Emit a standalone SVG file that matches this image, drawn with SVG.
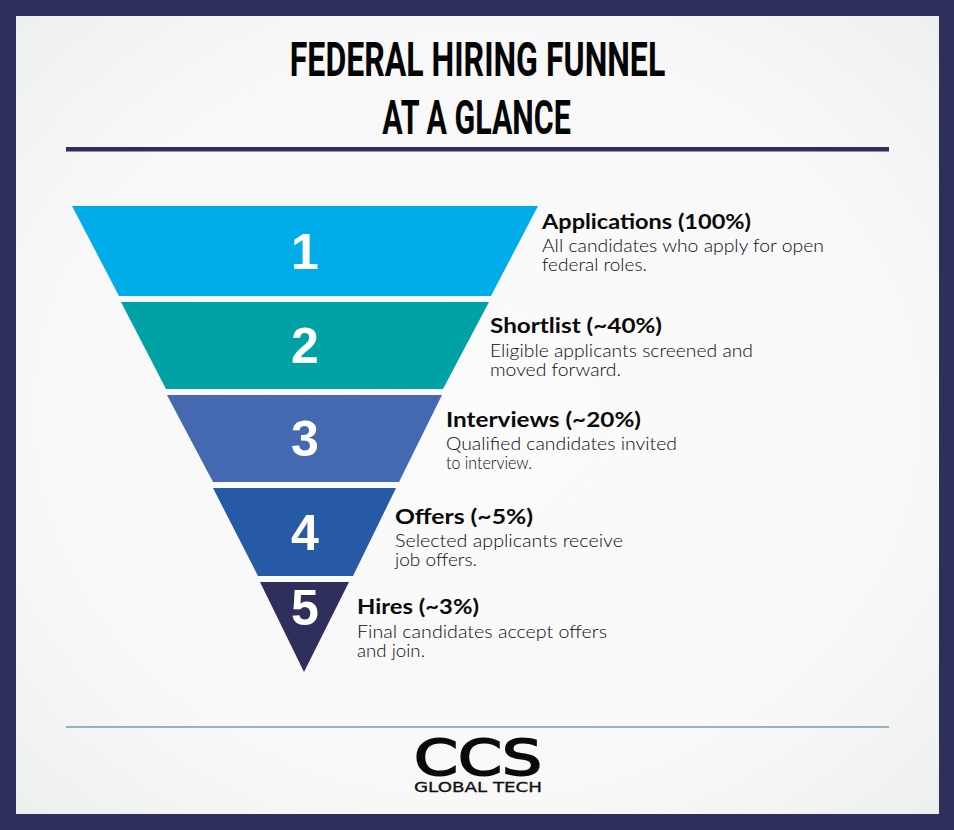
<svg xmlns="http://www.w3.org/2000/svg" width="954" height="830" viewBox="0 0 954 830">
<defs>
<radialGradient id="bg" cx="50%" cy="50%" r="70%"><stop offset="0" stop-color="#fbfbfb"/><stop offset="0.7" stop-color="#f8f8f8"/><stop offset="1" stop-color="#eeefef"/></radialGradient>
</defs>
<style>
.t{font-family:"Roboto","Liberation Sans",sans-serif;font-weight:700;font-size:48px;fill:#050505;text-anchor:middle}
.n{font-family:"Liberation Sans",sans-serif;font-weight:700;font-size:50px;fill:#fff;text-anchor:middle}
.h{font-family:"Lato","Liberation Sans",sans-serif;font-weight:700;font-size:21px;fill:#0a0a0a}
.b{font-family:"Lato","Liberation Sans",sans-serif;font-weight:300;font-size:18px;fill:#0c0c0c}
</style>
<rect width="954" height="830" fill="#2f2f5c"/>
<rect x="16" y="16" width="923" height="798" fill="url(#bg)"/>
<g id="title">
<text class="t" transform="translate(477.500 76) scale(0.668 1)">FEDERAL HIRING FUNNEL</text>
<text class="t" transform="translate(476.500 134) scale(0.634 1)">AT A GLANCE</text>
</g>
<rect x="66" y="147" width="823" height="4.500" fill="#2f2f5c"/>
<g id="step1"><polygon points="72,206 538,206 491,296 119,296" fill="#00ade8"/><text class="n" x="305" y="269">1</text>
<text class="h" x="542" y="228.500" textLength="209" lengthAdjust="spacingAndGlyphs">Applications (100%)</text><text class="b" x="542" y="252" textLength="282" lengthAdjust="spacingAndGlyphs">All candidates who apply for open</text><text class="b" x="542" y="271" textLength="105" lengthAdjust="spacingAndGlyphs">federal roles.</text></g>
<g id="step2"><polygon points="121,302 489,302 443,389 166,389" fill="#00a2a5"/><text class="n" x="305" y="363">2</text>
<text class="h" x="490" y="332.500" textLength="172" lengthAdjust="spacingAndGlyphs">Shortlist (~40%)</text><text class="b" x="490" y="357" textLength="263" lengthAdjust="spacingAndGlyphs">Eligible applicants screened and</text><text class="b" x="490" y="376" textLength="131" lengthAdjust="spacingAndGlyphs">moved forward.</text></g>
<g id="step3"><polygon points="167,395 442,395 399,482 213,482" fill="#4469b0"/><text class="n" x="305" y="456">3</text>
<text class="h" x="446" y="426.500" textLength="195" lengthAdjust="spacingAndGlyphs">Interviews (~20%)</text><text class="b" x="446" y="450" textLength="231" lengthAdjust="spacingAndGlyphs">Qualified candidates invited</text><text class="b" x="446" y="469" textLength="86" lengthAdjust="spacingAndGlyphs">to interview.</text></g>
<g id="step4"><polygon points="213,488 396,488 353,576 258,576" fill="#2659a6"/><text class="n" x="305" y="550">4</text>
<text class="h" x="395" y="523.500" textLength="138" lengthAdjust="spacingAndGlyphs">Offers (~5%)</text><text class="b" x="395" y="547" textLength="228" lengthAdjust="spacingAndGlyphs">Selected applicants receive</text><text class="b" x="395" y="566" textLength="82" lengthAdjust="spacingAndGlyphs">job offers.</text></g>
<g id="step5"><polygon points="260,582 349,582 304,672" fill="#2f2f5c"/><text class="n" x="305" y="625">5</text>
<text class="h" x="357" y="613.500" textLength="122" lengthAdjust="spacingAndGlyphs">Hires (~3%)</text><text class="b" x="357" y="638" textLength="250" lengthAdjust="spacingAndGlyphs">Final candidates accept offers</text><text class="b" x="357" y="657" textLength="68" lengthAdjust="spacingAndGlyphs">and join.</text></g>
<rect x="66" y="726.500" width="823" height="1" fill="#3f6d8e"/>
<g id="logo">
<text font-family="DejaVu Sans" font-weight="400" font-size="50" fill="#0a0a0a" stroke="#0a0a0a" stroke-width="1.800" x="414" y="775" textLength="128" lengthAdjust="spacingAndGlyphs">CCS</text>
<text font-family="DejaVu Sans" font-weight="400" font-size="14" fill="#111" stroke="#111" stroke-width="0.300" x="414" y="792" textLength="128" lengthAdjust="spacingAndGlyphs">GLOBAL TECH</text>
</g>
</svg>
